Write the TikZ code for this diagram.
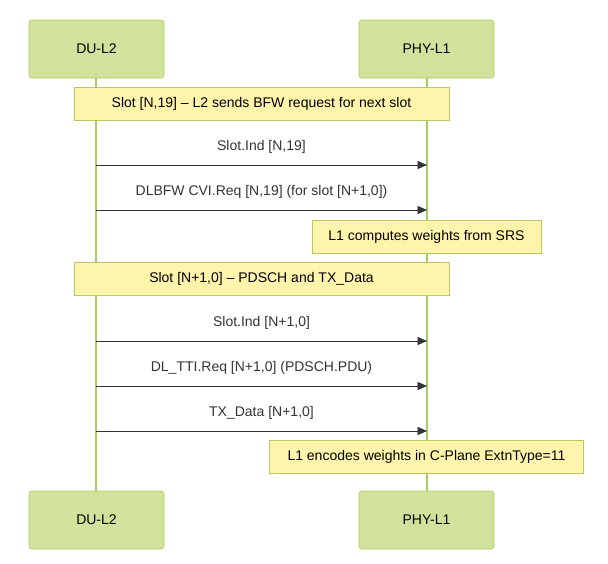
\documentclass[tikz,border=0pt]{standalone}
\usepackage{fontspec}
\setmainfont{Liberation Sans}
\usetikzlibrary{arrows.meta}
\definecolor{actfill}{HTML}{D0E29B}
\definecolor{actdraw}{HTML}{A9CC5E}
\definecolor{notefill}{HTML}{FFF4AC}
\definecolor{notedraw}{HTML}{B5C95E}
\definecolor{msg}{HTML}{333333}
\tikzset{
  actor/.style={draw=actdraw,fill=actfill,rounded corners=2pt,minimum width=135*0.75pt,minimum height=58*0.75pt,font=\fontsize{10.5}{12}\selectfont},
  note/.style={draw=notedraw,fill=notefill,minimum height=33*0.75pt,inner sep=0pt,font=\fontsize{10.5}{12}\selectfont},
  life/.style={draw=actdraw,line width=1pt},
  call/.style={draw=msg,-{Triangle[length=7pt,width=6pt]}},
  lbl/.style={font=\fontsize{10.5}{12}\selectfont,text=msg}
}
\begin{document}
\begin{tikzpicture}[x=0.75pt,y=-0.75pt]
  \useasboundingbox (0,0) rectangle (608,564);
  % lifelines
  \coordinate (du0) at (96,78);  \coordinate (du1) at (96,491);
  \coordinate (ph0) at (427,78); \coordinate (ph1) at (427,491);
  \draw[life] (du0) -- (du1);
  \draw[life] (ph0) -- (ph1);

  \node[actor] (duT) at (96.5,49) {DU-L2};
  \node[actor] (phT) at (426.5,49) {PHY-L1};
  \node[actor] (duB) at (96.5,520) {DU-L2};
  \node[actor] (phB) at (426.5,520) {PHY-L1};

  \node[note,minimum width=375*0.75pt] (n1) at (261.5,104) {Slot [N,19] -- L2 sends BFW request for next slot};
  \node[note,minimum width=229*0.75pt] (n2) at (426.5,236.5) {L1 computes weights from SRS};
  \node[note,minimum width=375*0.75pt] (n3) at (261.5,279) {Slot [N+1,0] -- PDSCH and TX\_Data};
  \node[note,minimum width=314*0.75pt] (n4) at (426.5,456.5) {L1 encodes weights in C-Plane ExtnType=11};

  % messages
  \foreach \y/\dir/\txt in {165/l/{Slot.Ind [N,19]},
                            210/r/{DLBFW CVI.Req [N,19] (for slot [N+1,0])},
                            341/l/{Slot.Ind [N+1,0]},
                            386/r/{DL\_TTI.Req [N+1,0] (PDSCH.PDU)},
                            431/r/{TX\_Data [N+1,0]}} {
    \coordinate (a) at (96,\y);
    \coordinate (b) at (427,\y);
    \ifx l\dir \draw[call] (b) -- (a); \else \draw[call] (a) -- (b); \fi
    \node[lbl] (m\y) at (261.5,\y-18) {\txt};
  }
\end{tikzpicture}
\end{document}
